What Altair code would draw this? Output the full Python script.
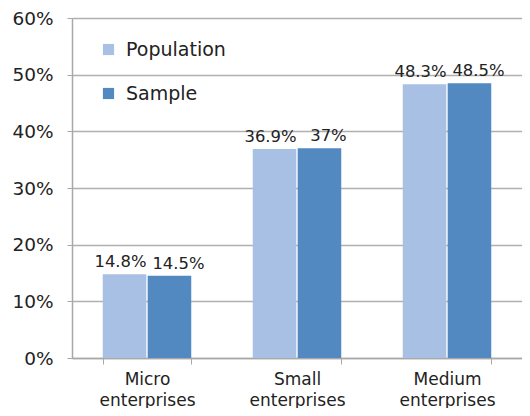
import altair as alt
import pandas as pd

categories = ["Micro\nenterprises", "Small\nenterprises", "Medium\nenterprises"]
series = ["Population", "Sample"]
population = [14.8, 36.9, 48.3]
sample = [14.5, 37.0, 48.5]
pop_labels = ["14.8%", "36.9%", "48.3%"]
sample_labels = ["14.5%", "37%", "48.5%"]
colors = ["#a7c0e4", "#5289c1"]

rows = []
for i, c in enumerate(categories):
    rows.append({"cat": c, "series": "Population", "value": population[i] / 100, "label": pop_labels[i]})
    rows.append({"cat": c, "series": "Sample", "value": sample[i] / 100, "label": sample_labels[i]})
df = pd.DataFrame(rows)

FONT = "DejaVu Sans"

x = alt.X("cat:N", sort=categories, title=None,
          scale=alt.Scale(paddingInner=0.41, paddingOuter=0.205),
          axis=alt.Axis(labelAngle=0, labelExpr="split(datum.label, '\\n')",
                        labelFontSize=17, labelColor="#222222", labelFont=FONT,
                        labelPadding=7, labelLineHeight=21,
                        tickBand="extent", tickSize=6, tickColor="#a8a8a8",
                        domainColor="#a8a8a8", domainWidth=1.5, grid=False))
xo = alt.XOffset("series:N", sort=series, scale=alt.Scale(paddingInner=0.03))
y = alt.Y("value:Q", title=None,
          scale=alt.Scale(domain=[0, 0.6]),
          axis=alt.Axis(values=[0, 0.1, 0.2, 0.3, 0.4, 0.5, 0.6], format=".0%",
                        labelFontSize=18.5, labelColor="#222222", labelFont=FONT,
                        labelPadding=14, tickSize=5, tickColor="#a8a8a8",
                        domainColor="#a8a8a8", domainWidth=1.5,
                        gridColor="#b0b0b0", gridWidth=1.5))

bars = alt.Chart(df).mark_bar().encode(
    x=x, xOffset=xo, y=y,
    color=alt.Color("series:N", sort=series,
                    scale=alt.Scale(domain=series, range=colors),
                    legend=alt.Legend(title=None, orient="none", legendX=27, legendY=22,
                                      symbolType="square", symbolSize=125,
                                      symbolStrokeWidth=0, labelFontSize=19,
                                      labelFont=FONT, labelColor="#222222",
                                      labelOffset=8, rowPadding=24, padding=0)),
)

text_pop = alt.Chart(df).transform_filter(alt.datum.series == "Population").mark_text(
    baseline="bottom", dy=-4, dx=-4, fontSize=16.4, font=FONT, color="#222222").encode(
    x=x, xOffset=xo, y=y, text="label:N"
)
text_smp = alt.Chart(df).transform_filter(alt.datum.series == "Sample").mark_text(
    baseline="bottom", dy=-4, dx=9, fontSize=16.4, font=FONT, color="#222222").encode(
    x=x, xOffset=xo, y=y, text="label:N"
)

chart = (bars + text_pop + text_smp).properties(
    width=450, height=340,
    autosize=alt.AutoSizeParams(type="none"),
    padding={"left": 64, "top": 10, "right": 0, "bottom": 50},
).configure_view(stroke=None).configure(background="white")

chart.save("out.html", embed_options={"renderer": "svg", "actions": False})
